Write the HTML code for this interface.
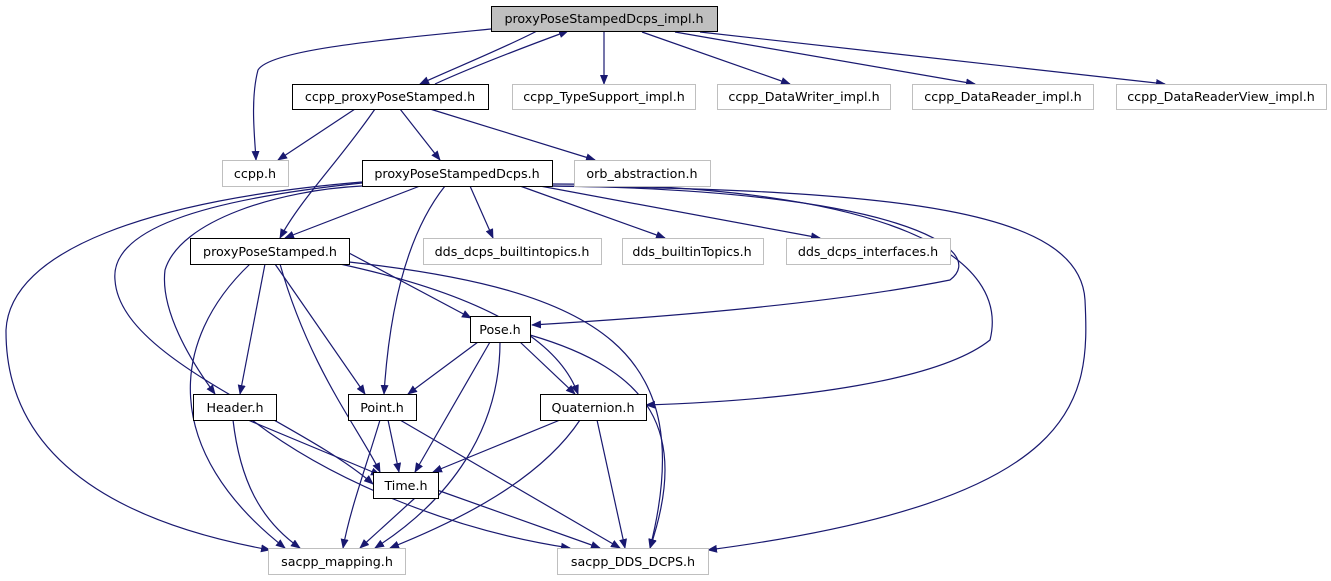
<!DOCTYPE html>
<html><head><meta charset="utf-8"><style>
html,body{margin:0;padding:0;background:#fff;}
svg{display:block;}
text{font-family:"DejaVu Sans","Liberation Sans",sans-serif;font-size:12.7px;fill:#000;}
.e{fill:none;stroke:#191970;stroke-width:1.2;marker-end:url(#a);}
.b{fill:#fff;stroke:#000;stroke-width:1;}
.g{fill:#fff;stroke:#bfbfbf;stroke-width:1;}
</style></head><body>
<svg width="1331" height="581" viewBox="0 0 1331 581" xmlns="http://www.w3.org/2000/svg">
<defs><marker id="a" markerWidth="10" markerHeight="8" refX="9" refY="4" orient="auto" markerUnits="userSpaceOnUse"><path d="M0,0 L10,4 L0,8 z" fill="#191970"/></marker></defs>
<!-- edges -->
<path class="e" d="M491,29 C380,40 270,50 258,70 C250,100 255,140 256,160"/>
<path class="e" d="M537,31 C500,50 450,70 420,84"/>
<path class="e" d="M435,84 C470,68 530,45 568,31"/>
<path class="e" d="M604,32 L604,84"/>
<path class="e" d="M642,32 L790,84"/>
<path class="e" d="M675,32 L975,84"/>
<path class="e" d="M700,32 L1165,84"/>
<path class="e" d="M355,109 L278,160"/>
<path class="e" d="M400,109 L440,160"/>
<path class="e" d="M430,109 L595,160"/>
<path class="e" d="M375,109 C340,160 300,200 280,238"/>
<path class="e" d="M420,186 L285,238"/>
<path class="e" d="M470,186 L493,238"/>
<path class="e" d="M520,186 L665,238"/>
<path class="e" d="M540,186 L820,238"/>
<path class="e" d="M445,186 C410,230 390,300 384,394"/>
<path class="e" d="M552,186 C900,190 990,250 950,280 C850,300 700,315 532,325"/>
<path class="e" d="M552,184 C900,185 1010,260 990,340 C940,380 800,400 646,405"/>
<path class="e" d="M552,186 C900,190 1080,210 1085,300 C1090,400 1085,500 708,550"/>
<path class="e" d="M362,186 C280,190 180,220 165,270 C160,310 190,360 215,394"/>
<path class="e" d="M362,183 C200,200 110,230 115,280 C120,360 300,420 373,484"/>
<path class="e" d="M362,182 C150,200 10,250 6,330 C5,480 160,530 270,550"/>
<path class="e" d="M349,253 L471,318"/>
<path class="e" d="M265,264 L240,394"/>
<path class="e" d="M275,264 L365,394"/>
<path class="e" d="M340,264 C460,290 555,330 578,394"/>
<path class="e" d="M280,264 C310,370 360,430 380,472"/>
<path class="e" d="M250,264 C170,340 160,450 285,548"/>
<path class="e" d="M349,262 C600,290 700,350 650,548"/>
<path class="e" d="M478,342 L408,394"/>
<path class="e" d="M520,342 L575,394"/>
<path class="e" d="M490,342 L415,472"/>
<path class="e" d="M500,342 C500,430 450,500 375,548"/>
<path class="e" d="M530,335 C650,370 690,430 650,548"/>
<path class="e" d="M248,420 L380,475"/>
<path class="e" d="M233,420 C240,480 260,520 300,548"/>
<path class="e" d="M252,420 C330,480 450,530 570,548"/>
<path class="e" d="M388,420 L399,472"/>
<path class="e" d="M380,420 C365,470 350,510 343,548"/>
<path class="e" d="M400,420 L620,548"/>
<path class="e" d="M560,420 L433,472"/>
<path class="e" d="M580,420 C540,480 460,520 390,548"/>
<path class="e" d="M597,420 L625,548"/>
<path class="e" d="M415,498 L360,548"/>
<path class="e" d="M437,490 L600,548"/>
<!-- nodes -->
<rect x="491.5" y="6.5" width="226" height="25" fill="#bfbfbf" stroke="#000"/><text x="604" y="23" text-anchor="middle">proxyPoseStampedDcps_impl.h</text>
<rect class="b" x="292.5" y="84.5" width="196" height="25"/><text x="390" y="101" text-anchor="middle">ccpp_proxyPoseStamped.h</text>
<rect class="g" x="512.5" y="84.5" width="183" height="25"/><text x="604" y="101" text-anchor="middle">ccpp_TypeSupport_impl.h</text>
<rect class="g" x="717.5" y="84.5" width="173" height="25"/><text x="804" y="101" text-anchor="middle">ccpp_DataWriter_impl.h</text>
<rect class="g" x="912.5" y="84.5" width="181" height="25"/><text x="1003" y="101" text-anchor="middle">ccpp_DataReader_impl.h</text>
<rect class="g" x="1116.5" y="84.5" width="210" height="25"/><text x="1221" y="101" text-anchor="middle">ccpp_DataReaderView_impl.h</text>
<rect class="g" x="222.5" y="160.5" width="66" height="26"/><text x="255" y="178" text-anchor="middle">ccpp.h</text>
<rect class="b" x="362.5" y="160.5" width="190" height="26"/><text x="457" y="178" text-anchor="middle">proxyPoseStampedDcps.h</text>
<rect class="g" x="574.5" y="160.5" width="136" height="26"/><text x="642" y="178" text-anchor="middle">orb_abstraction.h</text>
<rect class="b" x="190.5" y="238.5" width="159" height="26"/><text x="270" y="256" text-anchor="middle">proxyPoseStamped.h</text>
<rect class="g" x="423.5" y="238.5" width="178" height="26"/><text x="512" y="256" text-anchor="middle">dds_dcps_builtintopics.h</text>
<rect class="g" x="622.5" y="238.5" width="141" height="26"/><text x="692" y="256" text-anchor="middle">dds_builtinTopics.h</text>
<rect class="g" x="786.5" y="238.5" width="164" height="26"/><text x="868" y="256" text-anchor="middle">dds_dcps_interfaces.h</text>
<rect class="b" x="470.5" y="316.5" width="60" height="26"/><text x="500" y="334" text-anchor="middle">Pose.h</text>
<rect class="b" x="193.5" y="394.5" width="83" height="26"/><text x="235" y="412" text-anchor="middle">Header.h</text>
<rect class="b" x="348.5" y="394.5" width="68" height="26"/><text x="382" y="412" text-anchor="middle">Point.h</text>
<rect class="b" x="540.5" y="394.5" width="106" height="26"/><text x="593" y="412" text-anchor="middle">Quaternion.h</text>
<rect class="b" x="373.5" y="472.5" width="65" height="26"/><text x="406" y="490" text-anchor="middle">Time.h</text>
<rect class="g" x="268.5" y="548.5" width="137" height="26"/><text x="337" y="566" text-anchor="middle">sacpp_mapping.h</text>
<rect class="g" x="557.5" y="548.5" width="151" height="26"/><text x="633" y="566" text-anchor="middle">sacpp_DDS_DCPS.h</text>
</svg>
</body></html>
